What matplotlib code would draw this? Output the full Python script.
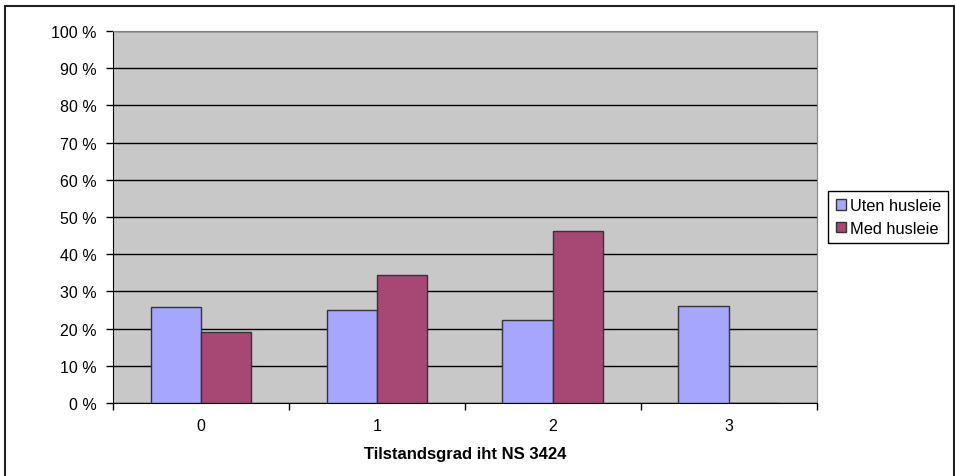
import matplotlib.pyplot as plt
import numpy as np
from matplotlib.patches import Rectangle

plt.rcParams['font.family'] = ['Liberation Sans', 'DejaVu Sans']

# Tilstandsgrad 0-3, andel per gruppe
grader = ['0', '1', '2', '3']
uten_husleie = [25.7, 25.0, 22.4, 26.1]
med_husleie = [19.0, 34.4, 46.2, 0.0]
serier = ['Uten husleie', 'Med husleie']

fig = plt.figure(figsize=(9.55, 4.77), dpi=100)
ax = fig.add_axes((0.1183, 0.153, 0.7367, 0.780))
ax.set_facecolor('#c8c8c8')

x = np.arange(len(grader))
w = 1 / 3.5
ax.bar(x - w / 2, uten_husleie, w, color='#a6a6ff', edgecolor='#333333', lw=1, label=serier[0], zorder=3)
ax.bar(x + w / 2, med_husleie, w, color='#a64873', edgecolor='#333333', lw=1, label=serier[1], zorder=3)

ax.set_xlim(-0.5, 3.5)
ax.set_ylim(0, 100)
ax.set_yticks(range(0, 101, 10))
ax.set_yticklabels([f'{v} %' for v in range(0, 101, 10)], fontsize=11.5)
ax.yaxis.grid(True, color='black', lw=1, zorder=1)
ax.set_axisbelow(True)

# kategorinavn i midten, tikker på grensene
ax.set_xticks(x)
ax.set_xticklabels(grader, fontsize=11.5)
ax.tick_params(axis='x', length=0, pad=11)
ax.set_xticks(np.arange(-0.5, 4, 1), minor=True)
ax.tick_params(axis='x', which='minor', length=5, width=1, direction='out')
ax.tick_params(axis='y', length=5, width=1, direction='out', pad=7)

for s in ['top', 'right']:
    ax.spines[s].set_color('#808080')
for s in ['left', 'bottom']:
    ax.spines[s].set_color('black')

ax.set_xlabel('Tilstandsgrad iht NS 3424', fontsize=12, fontweight='bold', labelpad=9)

leg = ax.legend(loc='center left', bbox_to_anchor=(1.017, 0.5), fontsize=11.8,
                frameon=True, fancybox=False, edgecolor='black', framealpha=1,
                handlelength=0.6, handleheight=0.6, handletextpad=0.25,
                borderpad=0.45, labelspacing=0.45, borderaxespad=0)
leg.get_frame().set_linewidth(1)
leg._legend_box.sep = 0

# ramme rundt hele figuren
fig.patches.append(Rectangle((5 / 955, -0.02), 949 / 955, 1.02 - 7 / 477,
                             transform=fig.transFigure, fill=False,
                             edgecolor='#222222', lw=1.5))

fig.savefig('out.png', dpi=100)
